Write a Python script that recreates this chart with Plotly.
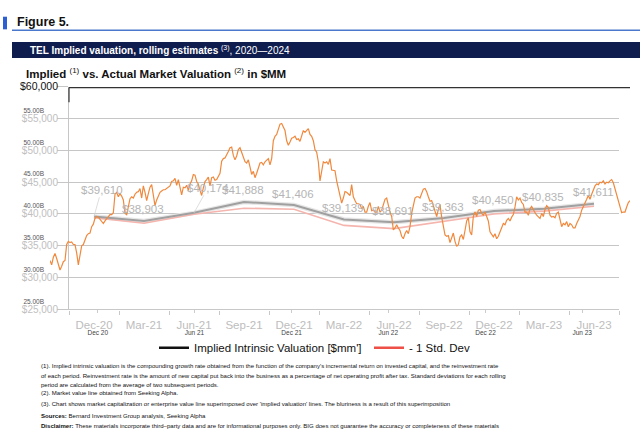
import plotly.graph_objects as go
import pandas as pd

# ---------------- data ----------------
quarters = ["Dec-20", "Mar-21", "Jun-21", "Sep-21", "Dec-21", "Mar-22",
            "Jun-22", "Sep-22", "Dec-22", "Mar-23", "Jun-23"]
implied_valuation = [39610, 38903, 40174, 41888, 41406, 39139,
                     38691, 39363, 40450, 40835, 41611]
minus_1_std = [39400, 38550, 39950, 40900, 40750, 38200,
               37700, 38800, 40000, 40450, 41200]

# market value (Seeking Alpha line), $B, evenly sampled over the period
market_start = "2020-09-02"
market_end = "2023-08-30"
market_value_bn = [
    32.7, 32.0, 33.2, 33.8, 33.0, 31.9, 31.2, 31.8, 32.5, 32.7,
    35.2, 35.7, 35.5, 35.6, 35.2, 35.2, 33.9, 32.0, 33.4, 35.0,
    35.2, 35.9, 36.6, 36.9, 37.0, 38.0, 38.4, 39.3, 39.6, 39.5,
    39.2, 38.9, 38.5, 38.9, 39.2, 39.5, 39.9, 39.9, 40.2, 43.1,
    43.4, 42.7, 43.2, 42.8, 42.2, 40.1, 39.9, 41.1, 42.4, 42.7,
    42.5, 43.1, 43.4, 43.5, 44.0, 42.5, 44.4, 43.4, 42.1, 43.2,
    44.2, 44.6, 43.1, 41.3, 42.2, 42.7, 43.4, 43.6, 43.8, 43.8,
    44.0, 44.1, 44.4, 45.1, 45.2, 45.6, 44.5, 45.4, 44.4, 43.0,
    44.2, 44.1, 44.5, 43.7, 44.7, 45.2, 46.2, 46.1, 45.1, 44.7,
    43.7, 42.9, 44.1, 45.1, 45.4, 45.8, 44.4, 45.7, 45.8, 45.3,
    45.4, 45.9, 46.4, 48.3, 48.7, 48.8, 49.2, 49.8, 50.4, 50.5,
    49.2, 48.5, 49.1, 50.1, 50.4, 49.7, 48.8, 48.2,
    48.0, 48.5, 47.4, 46.2, 46.7, 45.7, 46.4, 47.1, 48.0, 48.1,
    47.7, 48.2, 48.5, 48.7, 47.7, 48.7, 51.5, 52.2, 52.5, 53.2,
    54.1, 54.2, 53.7, 53.1, 51.5, 50.8, 51.3, 51.9, 52.0, 52.2,
    51.7, 51.8, 51.4, 52.5, 53.1, 52.8, 53.1, 53.4, 52.5, 52.2,
    51.5, 50.1, 49.7, 48.2, 45.2, 46.9, 48.2, 48.0, 48.2, 47.8,
    48.7, 46.9, 46.8, 46.8, 45.2, 44.1, 42.5, 41.7, 42.5, 43.5,
    43.4, 43.2, 42.9, 44.6, 42.7, 42.1, 41.6, 41.6, 41.5, 40.8,
    41.2, 40.3, 40.3, 41.2, 41.8, 40.5, 40.6, 40.3, 40.3, 41.2,
    40.3, 40.6, 41.7, 42.3, 42.5, 41.3, 40.3, 39.6, 37.5, 37.8,
    38.3, 37.8, 37.4, 36.5, 36.1, 36.9, 37.4, 36.9, 38.0, 40.1,
    41.1, 42.5, 42.7, 42.7, 42.5, 43.1, 43.9, 44.0, 43.5, 42.7,
    42.0, 42.1, 41.2, 40.6, 39.6, 40.7, 41.5,
    39.5, 38.3, 36.7, 36.5, 36.6, 35.5, 36.2, 37.0, 35.7, 34.9,
    35.2, 36.4, 36.7, 36.0, 37.4, 38.9, 39.4, 37.2, 36.7, 39.6,
    40.3, 39.6, 40.6, 40.7, 40.1, 39.8, 40.3, 39.5, 38.9, 37.2,
    36.7, 36.4, 36.9, 36.1, 36.5, 37.2, 37.6, 38.5, 38.3, 39.0,
    39.3, 38.9, 39.5, 39.9, 41.1, 42.7, 42.2, 42.5, 41.8, 41.5,
    40.3, 40.3, 39.8, 40.8, 41.2, 40.6, 40.2, 39.8, 39.5, 39.3,
    40.1, 39.6, 40.7, 41.3, 41.0, 39.8, 39.5, 39.6, 39.4, 40.1,
    40.3, 38.9, 38.0, 38.5, 38.3, 38.8, 38.0, 38.5, 38.3, 37.8,
    37.8, 38.5, 39.0, 39.6, 40.6, 41.1, 41.8, 42.3, 42.9, 42.3,
    43.1, 43.9, 44.4, 44.7, 44.6, 45.0, 44.9, 45.2, 44.7, 45.0,
    44.9, 45.2, 45.4, 44.9, 43.9, 43.1, 42.1, 40.8, 40.2, 40.3,
    40.3, 41.1, 41.8, 42.1,
]

y_ticks = [25000, 30000, 35000, 40000, 45000, 50000, 55000, 60000]
sa_y_ticks = [25000, 30000, 35000, 40000, 45000, 50000, 55000]
sa_y_labels = ["25.00B", "30.00B", "35.00B", "40.00B", "45.00B", "50.00B", "55.00B"]
sa_x_ticks = ["2020-12-01", "2021-06-01", "2021-12-01", "2022-06-01", "2022-12-01", "2023-06-01"]
sa_x_labels = ["Dec 20", "Jun 21", "Dec 21", "Jun 22", "Dec 22", "Jun 23"]

legend_names = ["Implied Intrinsic Valuation [$mm']", "- 1 Std. Dev"]

footnotes = [
    "(1). Implied intrinsic valuation is the compounding growth rate obtained from the function of the company's incremental return on invested capital, and the reinvestment rate",
    "of each period. Reinvestment rate is the amount of new capital put back into the business as a percentage of net operating profit after tax. Standard deviations for each rolling",
    "period are calculated from the average of two subsequent periods.",
    "(2). Market value line obtained from Seeking Alpha.",
    "(3). Chart shows market capitalization or enterprise value line superimposed over 'implied valuation' lines. The bluriness is a result of this superimposition",
    "<b>Sources:</b> Bernard Investment Group analysis, Seeking Alpha",
    "<b>Disclaimer:</b> These materials incorporate third\u2013party data and are for informational purposes only. BIG does not guarantee the accuracy or completeness of these materials",
]

# ---------------- figure ----------------
W, H = 640, 448
FONT = "Liberation Sans, Arial, Helvetica, sans-serif"


def px(x):
    return x / W


def py(y):
    return 1 - y / H


market_dates = pd.date_range(market_start, market_end, periods=len(market_value_bn))
market_value = [v * 1000 for v in market_value_bn]

fig = go.Figure()
# implied lines (Excel layer)
fig.add_trace(go.Scatter(x=quarters, y=implied_valuation, mode="lines",
                         line=dict(color="#e6e6e6", width=4.5), showlegend=False,
                         hoverinfo="skip", xaxis="x", yaxis="y"))
fig.add_trace(go.Scatter(x=quarters, y=minus_1_std, mode="lines",
                         line=dict(color="#f5b5ae", width=1.6), showlegend=False,
                         xaxis="x", yaxis="y"))
fig.add_trace(go.Scatter(x=quarters, y=implied_valuation, mode="lines",
                         line=dict(color="#a0a0a0", width=2), showlegend=False,
                         xaxis="x", yaxis="y"))
# market value (Seeking Alpha layer)
fig.add_trace(go.Scatter(x=market_dates, y=market_value, mode="lines",
                         line=dict(color="#f0893d", width=1.2), showlegend=False,
                         xaxis="x2", yaxis="y2"))
# legend entries
fig.add_trace(go.Scatter(x=[None], y=[None], mode="lines", name=legend_names[0],
                         line=dict(color="#111111", width=2.5), xaxis="x", yaxis="y",
                         legend="legend"))
fig.add_trace(go.Scatter(x=[None], y=[None], mode="lines", name=legend_names[1],
                         line=dict(color="#ee4f46", width=2.5), xaxis="x", yaxis="y",
                         legend="legend2"))

y_ticktext = [f"${v:,}" for v in y_ticks[:-1]] + \
    [f'<span style="color:#111111;font-size:10.5px">${y_ticks[-1]:,}</span>']

ydom = [py(311.5), py(82)]
legend_common = dict(orientation="h", yanchor="middle", xanchor="left",
                     font=dict(size=11.5, color="#111"), bgcolor="rgba(0,0,0,0)",
                     itemwidth=30)
fig.update_layout(
    width=W, height=H, autosize=False,
    margin=dict(l=0, r=0, t=0, b=0),
    paper_bgcolor="white", plot_bgcolor="rgba(0,0,0,0)",
    font=dict(family=FONT, color="#111"),
    xaxis=dict(domain=[px(69), px(619)], type="category", categoryorder="array",
               categoryarray=quarters, range=[-0.5, 10.5], tickson="boundaries",
               ticks="outside", ticklen=4, tickcolor="#c8c8c8", showline=True,
               linecolor="#c8c8c8", linewidth=1.3, showgrid=False, anchor="y",
               tickfont=dict(size=11.5, color="#bdbdbd"), ticklabelstandoff=5),
    yaxis=dict(domain=ydom, range=[25000, 60000], tickvals=y_ticks, ticktext=y_ticktext,
               ticks="outside", ticklen=11, tickcolor="#c6c6c6", showgrid=True,
               gridcolor="#c6c6c6", gridwidth=1.3, showline=True, linecolor="#c6c6c6",
               zeroline=False, anchor="x", tickfont=dict(size=10, color="#c0c0c0"),
               ticklabelstandoff=-3),
    xaxis2=dict(domain=[px(50), px(630)], type="date", range=[market_start, market_end],
                anchor="y2", tickvals=sa_x_ticks, ticktext=sa_x_labels, ticks="outside",
                ticklen=3, tickcolor="#cccccc", showgrid=False, showline=False,
                zeroline=False, tickfont=dict(size=6.5, color="#444444"),
                ticklabelstandoff=14),
    yaxis2=dict(domain=ydom, range=[25000, 60000], anchor="x2", tickvals=sa_y_ticks,
                ticktext=sa_y_labels, ticks="", showgrid=False, zeroline=False,
                showline=False, tickfont=dict(size=6.5, color="#555555"),
                ticklabelshift=-8, ticklabelstandoff=5),
    legend=dict(x=px(154), y=py(351), **legend_common),
    legend2=dict(x=px(369), y=py(351), **legend_common),
)

shapes = [
    dict(type="rect", xref="paper", yref="paper", x0=px(3), x1=px(7), y0=py(23), y1=py(10),
         fillcolor="#2c5fd2", line=dict(width=0)),
    dict(type="line", xref="paper", yref="paper", x0=px(12), x1=1, y0=py(24), y1=py(24),
         line=dict(color="#4a78cc", width=1.5)),
    dict(type="rect", xref="paper", yref="paper", x0=px(12), x1=1, y0=py(52.5), y1=py(36),
         fillcolor="#0e1c4e", line=dict(width=0)),
    dict(type="line", xref="paper", yref="paper", x0=px(69), x1=px(630), y0=py(83), y1=py(83),
         line=dict(color="#333333", width=1.2)),
    dict(type="line", xref="paper", yref="paper", x0=px(69), x1=px(69), y0=py(98), y1=py(83),
         line=dict(color="#333333", width=1.2)),
]
fig.update_layout(shapes=shapes)

ann = [
    dict(text="<b>Figure 5.</b>", x=px(15), y=py(15.5), xref="paper", yref="paper",
         xanchor="left", yanchor="middle", showarrow=False, font=dict(size=12.5, color="#111")),
    dict(text="<b>TEL Implied valuation, rolling estimates </b><sup>(3)</sup>, 2020\u20142024",
         x=px(28), y=py(44.5), xref="paper", yref="paper", xanchor="left", yanchor="middle",
         showarrow=False, font=dict(size=10, color="white")),
    dict(text="<b>Implied </b><sup>(1)</sup><b> vs. Actual Market Valuation </b><sup>(2)</sup><b> in $MM</b>",
         x=px(24), y=py(67.5), xref="paper", yref="paper", xanchor="left", yanchor="middle",
         showarrow=False, font=dict(size=11.5, color="#111")),
]

# data labels for the implied valuation
label_offsets = {0: (7.5, -26.7), 2: (14, -25)}
for i, (q, v) in enumerate(zip(quarters, implied_valuation)):
    if i in label_offsets:
        ax, ay = label_offsets[i]
        ann.append(dict(text=f"${v:,}", x=q, y=v, xref="x", yref="y", showarrow=True,
                        ax=ax, ay=ay, arrowhead=0, arrowwidth=0.7, arrowcolor="#d0d0d0",
                        standoff=0, font=dict(size=11.5, color="#b5b5b5")))
    else:
        ann.append(dict(text=f"${v:,}", x=q, y=v, xref="x", yref="y", showarrow=False,
                        yshift=11.5, xshift=-1, xanchor="center", yanchor="middle",
                        font=dict(size=11.5, color="#b5b5b5")))

foot_y = [370, 380, 389, 398, 408.5, 421, 431.5]
for t, yy in zip(footnotes, foot_y):
    ann.append(dict(text=t, x=px(39), y=py(yy), xref="paper", yref="paper",
                    xanchor="left", yanchor="middle", showarrow=False,
                    font=dict(size=6.05, color="#111")))

fig.update_layout(annotations=ann)
fig.write_html("out.html")
